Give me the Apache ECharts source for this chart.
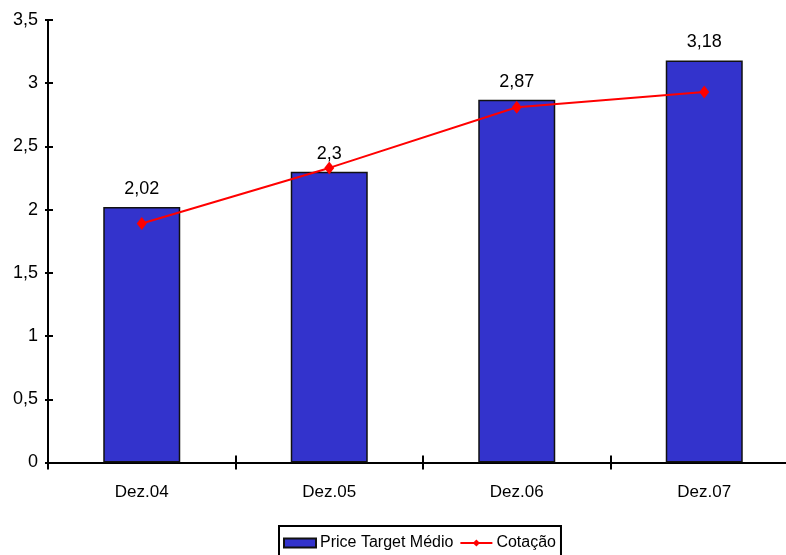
<!DOCTYPE html>
<html><head><meta charset="utf-8">
<script src="https://cdn.jsdelivr.net/npm/echarts@6/dist/echarts.min.js"></script>
<style>html,body{margin:0;padding:0;background:#fff}#c{width:786px;height:555px}</style>
</head><body><div id="c"></div>
<script>
const categories = ['Dez.04', 'Dez.05', 'Dez.06', 'Dez.07'];
const priceTarget = [2.02, 2.3, 2.87, 3.18];
const cotacao = [1.89, 2.33, 2.81, 2.93];
const yMin = 0, yMax = 3.5, yInterval = 0.5;

const fmt = v => String(v).replace('.', ',');
const chart = echarts.init(document.getElementById('c'));
const ff = 'Liberation Sans, Arial, sans-serif';
chart.setOption({
  animation: false,
  grid: { left: 48, width: 750, top: 20, height: 442.5, containLabel: false, outerBoundsMode: 'none' },
  xAxis: [{
    type: 'category', data: categories, boundaryGap: true,
    axisLine: { lineStyle: { color: '#000', width: 2 } },
    axisTick: { show: true, length: 7, alignWithLabel: false, lineStyle: { color: '#000', width: 2 } },
    axisLabel: { color: '#000', fontSize: 17, fontFamily: ff, margin: 21 }
  }, {
    type: 'category', data: categories, boundaryGap: true, position: 'bottom', gridIndex: 0,
    axisLine: { show: false },
    axisTick: { show: true, inside: true, length: 7, lineStyle: { color: '#000', width: 2 } },
    axisLabel: { show: false }
  }],
  yAxis: [{
    type: 'value', min: yMin, max: yMax, interval: yInterval,
    axisLine: { show: true, lineStyle: { color: '#000', width: 2 } },
    axisTick: { show: true, length: 3, lineStyle: { color: '#000', width: 2 } },
    splitLine: { show: false },
    axisLabel: { color: '#000', fontSize: 18, fontFamily: ff, margin: 10, formatter: fmt }
  }, {
    type: 'value', min: yMin, max: yMax, interval: yInterval, position: 'left',
    axisLine: { show: false },
    axisTick: { show: true, inside: true, length: 5, lineStyle: { color: '#000', width: 2 } },
    splitLine: { show: false },
    axisLabel: { show: false }
  }],
  legend: {
    top: 526, left: 279,
    data: [{ name: 'Price Target Médio', icon: 'rect' }, { name: 'Cotação' }],
    itemWidth: 32, itemHeight: 9, itemGap: 6,
    borderColor: '#000', borderWidth: 2, borderRadius: 0, padding: [9, 5, 10, 4],
    textStyle: { color: '#000', fontSize: 16, fontFamily: ff, padding: [0, 0, 0, -1] }
  },
  series: [{
    name: 'Price Target Médio', type: 'bar', data: priceTarget, barWidth: 77,
    itemStyle: { color: '#3333CC', borderColor: '#111', borderWidth: 1.5 },
    label: { show: true, position: 'top', distance: 9, color: '#000', fontSize: 18, fontFamily: ff, formatter: p => fmt(p.value) }
  }, {
    name: 'Cotação', type: 'line', data: cotacao,
    lineStyle: { color: '#FF0000', width: 2 }, itemStyle: { color: '#FF0000' },
    symbol: 'diamond', symbolSize: [10, 13], showSymbol: true
  }]
});
</script></body></html>
